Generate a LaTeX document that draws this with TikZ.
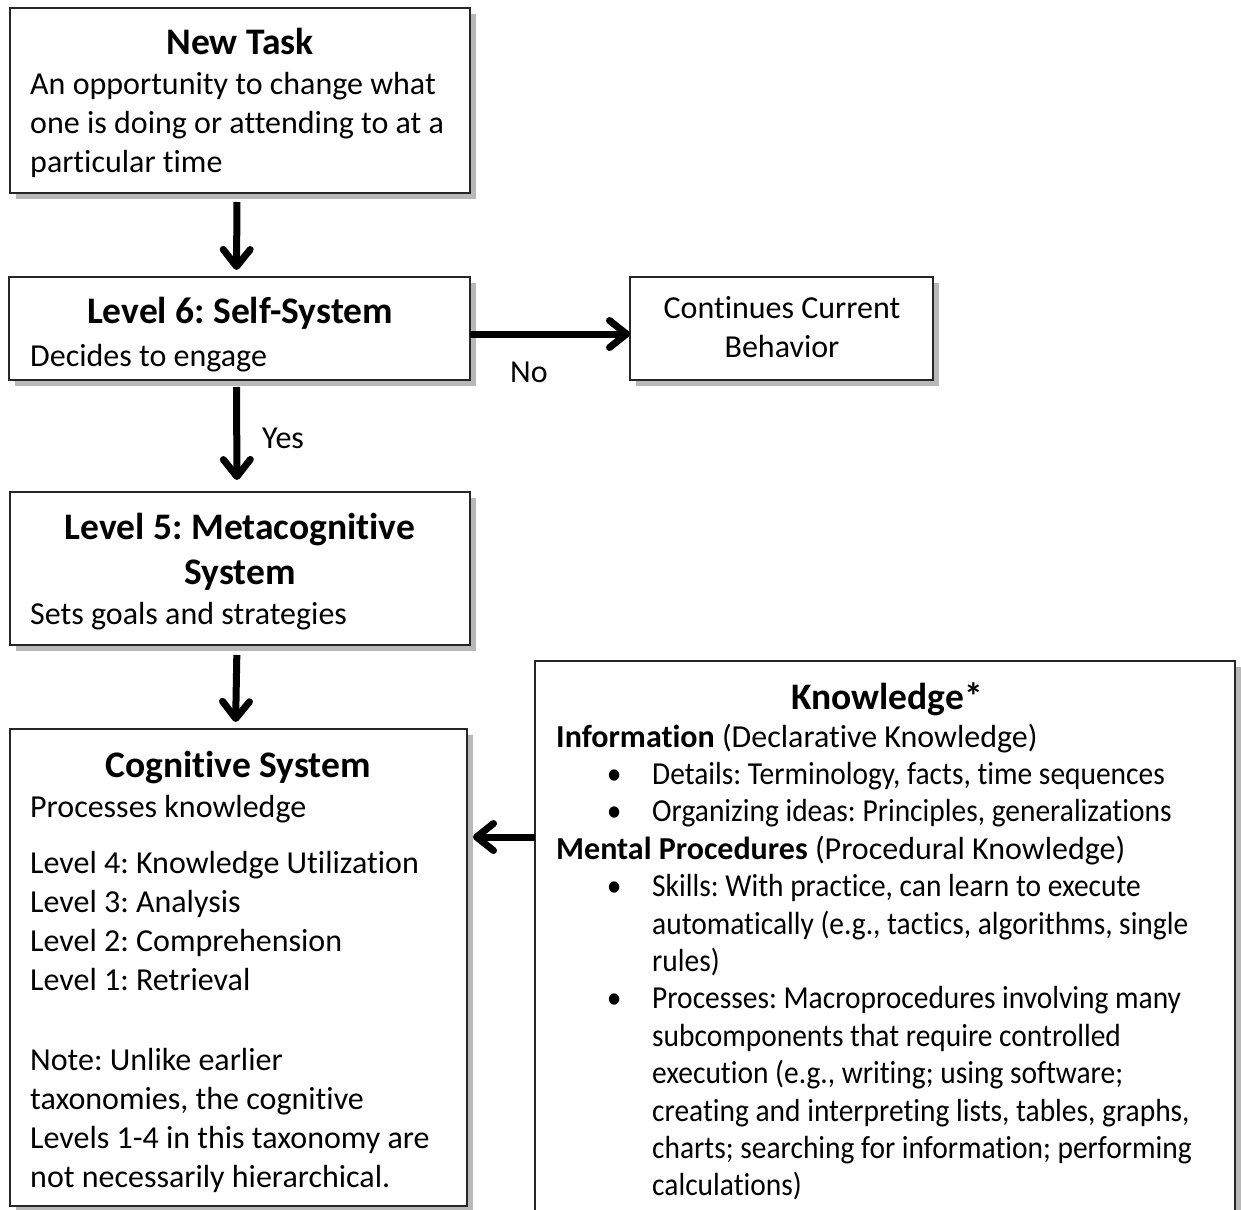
\documentclass[tikz,border=0pt]{standalone}
\usepackage{fontspec}
\setmainfont{Carlito}[Ligatures=NoCommon]
\newfontfamily\kcond{Carlito}[FakeStretch=0.92, Ligatures=NoCommon]
\usetikzlibrary{arrows.meta,shadows}
\newcommand{\kbul}{\noindent\llap{\makebox[16pt]{\textbullet}\hskip30pt}}
\begin{document}
\frenchspacing
\begin{tikzpicture}[x=1pt,y=-1pt,
  box/.style={draw=black!85, line width=1.5pt, fill=white, anchor=north west,
    inner sep=0pt, outer sep=0pt,
    drop shadow={shadow xshift=6pt, shadow yshift=-6pt, fill=black!28, opacity=1}},
  arr/.style={line width=7pt, -{Straight Barb[length=17pt, width=27pt, line cap=round, line join=round]}},
  body/.style={font=\fontsize{32}{39}\selectfont\frenchspacing, inner sep=0pt, align=flush left, anchor=base west, text width=1000pt},
  kbody/.style={font=\fontsize{32}{37.4}\selectfont\frenchspacing, inner sep=0pt, align=flush left, anchor=base west, text width=1000pt},
  ttl/.style={font=\fontsize{37.5}{45}\selectfont\bfseries, inner sep=0pt, align=flush center, anchor=base},
  lbl/.style={font=\fontsize{32}{39}\selectfont, inner sep=0pt, anchor=base}
]
\useasboundingbox (0,0) rectangle (1241,1209);
\clip (0,0) rectangle (1241,1209);

% boxes
\node[box, minimum width=460pt, minimum height=185pt] (nt) at (10,8) {};
\node[box, minimum width=461pt, minimum height=103pt] (l6) at (9,277) {};
\node[box, minimum width=303pt, minimum height=103pt] (cc) at (630,277) {};
\node[box, minimum width=460pt, minimum height=153pt] (l5) at (10,492) {};
\node[box, minimum width=457pt, minimum height=477pt] (cs) at (10,729) {};
\node[box, minimum width=700pt, minimum height=580pt] (kn) at (535,661) {};

% texts
\node[ttl] (ntT) at (240,55) {New Task};
\node[body] (ntB) at (30,95) {An opportunity to change what\\one is doing or attending to at a\\particular time};

\node[ttl] (l6T) at (240,323) {Level 6: Self-System};
\node[body] (l6B) at (30,366) {Decides to engage};

\node[lbl, align=flush center, text width=300pt] (ccT) at (782,318) {Continues Current\\Behavior};

\node[ttl, text width=440pt] (l5T) at (240,539) {Level 5: Metacognitive\\System};
\node[body] (l5B) at (30,624) {Sets goals and strategies};

\node[ttl] (csT) at (238,777) {Cognitive System};
\node[body] (csB1) at (30,817) {Processes knowledge};
\node[body] (csB2) at (30,873) {Level 4: Knowledge Utilization\\Level 3: Analysis\\Level 2: Comprehension\\Level 1: Retrieval};
\node[body] (csB3) at (30,1070) {Note: Unlike earlier\\taxonomies, the cognitive\\Levels 1-4 in this taxonomy are\\not necessarily hierarchical.};

\node[ttl] (knT) at (887,709) {Knowledge*};
\node[kbody] (knB) at (556,747) {\parindent=0pt
\textbf{Information} (Declarative Knowledge)\par
{\leftskip=96pt \kcond
\kbul Details: Terminology, facts, time sequences\par
\kbul Organizing ideas: Principles, generalizations\par}
\textbf{Mental Procedures} (Procedural Knowledge)\par
{\leftskip=96pt \kcond
\kbul Skills: With practice, can learn to execute\newline automatically (e.g., tactics, algorithms, single\newline rules)\par
\kbul Processes: Macroprocedures involving many\newline subcomponents that require controlled\newline execution (e.g., writing; using software;\newline creating and interpreting lists, tables, graphs,\newline charts; searching for information; performing\newline calculations)\par}};

% connectors
\draw[arr, shorten <=9pt, shorten >=7pt] ([xshift=-3pt]nt.south) -- ([xshift=-3pt]l6.north);
\draw[arr] ([yshift=-5.5pt]l6.east) -- ([yshift=-5.5pt]l6.east -| cc.west);
\draw[arr, shorten <=7pt, shorten >=12pt] ([xshift=-3pt]l6.south) -- ([xshift=-3pt]l5.north);
\draw[arr, shorten <=10pt, shorten >=7pt] ([xshift=-3pt]l5.south) -- ([xshift=-3pt]cs.north);
\draw[arr, shorten >=6pt] ([yshift=114pt]kn.west) -- ([yshift=114pt]kn.west -| cs.east);

\node[lbl] (no) at (529,382) {No};
\node[lbl, anchor=base west] (yes) at (262,448) {Yes};
\end{tikzpicture}
\end{document}
